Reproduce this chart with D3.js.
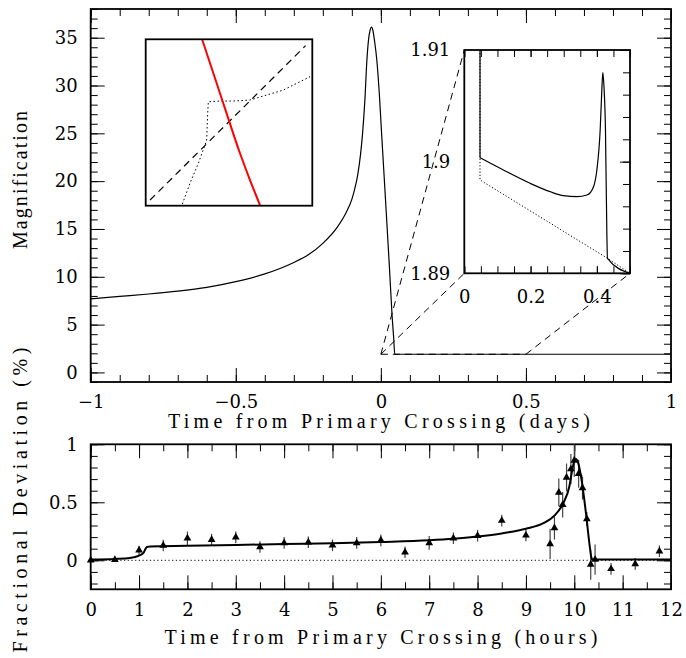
<!DOCTYPE html>
<html>
<head>
<meta charset="utf-8">
<script src="https://cdn.jsdelivr.net/npm/d3@7/dist/d3.min.js"></script>
<style>
    body { margin: 0; background: #fff; }
    text { font-family: "DejaVu Serif", serif; fill: #000; }
</style>
</head>
<body>
<svg width="686" height="658"></svg>
<script>
// upper panel: magnification vs time (days)
let mainT = [-1, -0.9, -0.8, -0.7, -0.6, -0.5, -0.4, -0.3, -0.25, -0.2, -0.15, -0.12, -0.1, -0.09, -0.08, -0.07,
    -0.063, -0.055, -0.048, -0.042, -0.037, -0.032, -0.027, -0.021, -0.014, -0.005, 0.002, 0.015, 0.029, 0.039,
    0.044, 0.048, 0.1, 0.5, 1.0];
let mainA = [7.7, 7.95, 8.2, 8.5, 8.9, 9.5, 10.3, 11.5, 12.3, 13.5, 15.2, 16.7, 18.1, 19.2, 20.6, 22.8,
    25.0, 28.5, 32.7, 34.9, 35.8, 36.1, 35.7, 34.5, 32.7, 29.0, 25.3, 18.6, 11.3, 5.8,
    3.7, 1.9, 1.9, 1.9, 1.9];

// zoomed inset (days, magnification)
let insetT = [0.0474, 0.1179, 0.1985, 0.259, 0.299, 0.3396, 0.370, 0.390, 0.400, 0.410, 0.415, 0.418, 0.422,
    0.426, 0.430, 0.432, 0.5];
let insetA = [1.90035, 1.89925, 1.89806, 1.89731, 1.89695, 1.89686, 1.89701, 1.89776, 1.89925, 1.90283, 1.90642,
    1.90797, 1.90642, 1.90283, 1.89388, 1.89134, 1.89];
let insetDotT = [0.0474, 0.0474, 0.432, 0.5];
let insetDotA = [1.91, 1.89836, 1.89134, 1.89];

// caustic sketch (arbitrary unit square)
let sketchRed = [[0.34, 0.996], [0.426, 0.736], [0.502, 0.505], [0.566, 0.315], [0.626, 0.154], [0.686, 0.004]];
let sketchDash = [[0.026, 0.034], [0.96, 0.962]];
let sketchDot = [[0.22, 0.01], [0.266, 0.135], [0.316, 0.255], [0.356, 0.365], [0.366, 0.395], [0.372, 0.555],
    [0.376, 0.625], [0.446, 0.629], [0.526, 0.629], [0.626, 0.635], [0.726, 0.665], [0.826, 0.695],
    [0.906, 0.735], [0.986, 0.775]];

// lower panel: fractional deviation vs time (hours)
let devH = [0, 0.5, 0.81, 1.0, 1.09, 1.16, 1.23, 2, 3, 4, 5, 6, 7, 7.5, 8, 8.5, 9, 9.36, 9.6, 9.77, 9.9, 9.95,
    9.99, 10.035, 10.08, 10.15, 10.24, 10.32, 10.35, 10.37, 12];
let devD = [0.006, 0.012, 0.02, 0.04, 0.063, 0.115, 0.12, 0.125, 0.132, 0.14, 0.148, 0.158, 0.172, 0.185, 0.205,
    0.232, 0.272, 0.32, 0.39, 0.49, 0.64, 0.76, 0.84, 0.873, 0.84, 0.695, 0.41, 0.12, 0.03, 0.006, 0.006];

let ptH = [0, 0.5, 1.0, 1.5, 2.0, 2.5, 3.0, 3.5, 4.0, 4.5, 5.0, 5.5, 6.0, 6.5, 7.0, 7.5, 8.0, 8.5, 9.0, 9.5,
    9.59, 9.68, 9.76, 9.84, 9.93, 10.0, 10.09, 10.17, 10.26, 10.34, 10.43, 10.76, 11.26, 11.76];
let ptD = [0.0, 0.005, 0.086, 0.127, 0.19, 0.178, 0.198, 0.115, 0.15, 0.155, 0.129, 0.15, 0.172, 0.069, 0.15,
    0.19, 0.212, 0.342, 0.215, 0.141, 0.279, 0.585, 0.479, 0.714, 0.786, 0.86, 0.746, 0.623, 0.356, -0.037,
    0.006, -0.074, -0.031, 0.078];
let ptErr = [0.01, 0.01, 0.04, 0.05, 0.058, 0.05, 0.05, 0.05, 0.05, 0.05, 0.05, 0.05, 0.05, 0.05, 0.06, 0.05,
    0.05, 0.05, 0.05, 0.13, 0.1, 0.12, 0.11, 0.12, 0.13, 0.14, 0.12, 0.1, 0.06, 0.13, 0.13, 0.05, 0.05, 0.05];

// tick values
let mainXMajor = [-1, -0.5, 0, 0.5, 1];
let mainYMajor = [0, 5, 10, 15, 20, 25, 30, 35];
let insetXMajor = [0, 0.2, 0.4];
let insetYMajor = [1.89, 1.9, 1.91];
let devXMajor = [0, 1, 2, 3, 4, 5, 6, 7, 8, 9, 10, 11, 12];
let devYMajor = [0, 0.5, 1];

let svg = d3.select("svg");
let fmt = d3.format("~g");

/**
 * draw a boxed frame with inward ticks on the four sides
 */
function drawFrame(g, x, y, o) {
    let w = x.range()[1] - x.range()[0];
    let h = y.range()[0] - y.range()[1];
    let hide = o.hideTicks || [];

    ["bottom", "top", "left", "right"].forEach(s => {
        let horiz = s === "bottom" || s === "top";
        let scale = horiz ? x : y;
        let maker = {bottom: d3.axisBottom, top: d3.axisTop, left: d3.axisLeft, right: d3.axisRight}[s];
        let pos = {bottom: [0, h], top: [0, 0], left: [0, 0], right: [w, 0]}[s];
        let minor = horiz ? o.xMinor : o.yMinor;
        let major = horiz ? o.xMajor : o.yMajor;
        let majorLen = horiz ? (o.xMajorLen || 14) : (o.yMajorLen || 14);
        let off = hide.indexOf(s) >= 0;

        // minor ticks
        if (!off) {
            g.append("g").attr("transform", `translate(${pos[0]},${pos[1]})`)
                .call(maker(scale).tickValues(minor).tickSizeInner(-7).tickSizeOuter(0).tickFormat(""))
                .call(a => a.select(".domain").remove());
        }
        // major ticks (+ labels on left/bottom)
        let labelled = s === "bottom" || s === "left";
        let ax = g.append("g").attr("transform", `translate(${pos[0]},${pos[1]})`)
            .call(maker(scale).tickValues(major).tickSizeInner(off ? 0 : -majorLen).tickSizeOuter(0)
                .tickPadding(s === "bottom" ? o.xPad : o.yPad)
                .tickFormat(labelled ? fmt : ""));
        ax.select(".domain").remove();
        ax.selectAll("text").style("font-size", "18px").style("font-family", "'DejaVu Serif', serif");
    });
    g.selectAll(".tick line").attr("stroke", "#000").attr("stroke-width", 1);

    g.append("rect")
        .attr("width", w).attr("height", h)
        .attr("fill", "none").attr("stroke", "#000").attr("stroke-width", 1.8);
}

// ---------------- upper panel ----------------
let topG = svg.append("g").attr("transform", "translate(90.7,9)");
let xMain = d3.scaleLinear().domain([-1, 1]).range([0, 580.3]);
let yMain = d3.scaleLinear().domain([-1, 38]).range([373, 0]);

drawFrame(topG, xMain, yMain, {
    xMinor: d3.range(-1, 1.001, 0.1), xMajor: mainXMajor,
    yMinor: d3.range(-1, 38.001, 1), yMajor: mainYMajor,
    xPad: 13, yPad: 13
});

let mainLine = d3.line()
    .x((d, i) => xMain(mainT[i]))
    .y((d, i) => yMain(mainA[i]))
    .curve(d3.curveMonotoneX);
topG.append("path")
    .attr("d", mainLine(mainT))
    .attr("fill", "none").attr("stroke", "#000").attr("stroke-width", 1.2);

// zoom box and connecting dashed lines
let insX = d3.scaleLinear().domain([0, 0.5]).range([464.3 - 90.7, 630 - 90.7]);
let insY = d3.scaleLinear().domain([1.89, 1.91]).range([273.3 - 9, 50 - 9]);
let boxL = xMain(0), boxR = xMain(0.5), boxY = yMain(1.9);
let connectors = [
    [boxL, boxY, insX.range()[0], insY.range()[1]],
    [boxL, boxY, insX.range()[0], insY.range()[0]],
    [boxR, boxY, insX.range()[1], insY.range()[0]]
];
topG.selectAll("line.conn")
    .data(connectors)
    .enter()
    .append("line")
    .attr("class", "conn")
    .attr("x1", d => d[0]).attr("y1", d => d[1])
    .attr("x2", d => d[2]).attr("y2", d => d[3])
    .attr("stroke", "#000").attr("stroke-width", 1).attr("stroke-dasharray", "7,5");
topG.append("line")
    .attr("x1", boxL).attr("x2", boxR).attr("y1", boxY).attr("y2", boxY)
    .attr("stroke", "#000").attr("stroke-width", 1).attr("stroke-dasharray", "7,5");

// zoomed inset on the right
let ins = topG.append("g").attr("transform", `translate(${insX.range()[0]},${insY.range()[1]})`);
let ix = d3.scaleLinear().domain(insX.domain()).range([0, insX.range()[1] - insX.range()[0]]);
let iy = d3.scaleLinear().domain(insY.domain()).range([insY.range()[0] - insY.range()[1], 0]);
ins.append("rect").attr("width", ix.range()[1]).attr("height", iy.range()[0]).attr("fill", "#fff");

ins.append("path")
    .attr("d", d3.line().x((d, i) => ix(insetDotT[i])).y((d, i) => iy(insetDotA[i]))(insetDotT))
    .attr("fill", "none").attr("stroke", "#000").attr("stroke-width", 1).attr("stroke-dasharray", "1.2,2");
ins.append("line")
    .attr("x1", ix(insetT[0])).attr("x2", ix(insetT[0]))
    .attr("y1", iy(1.91)).attr("y2", iy(insetA[0]))
    .attr("stroke", "#000").attr("stroke-width", 1.2);
ins.append("path")
    .attr("d", d3.line().x((d, i) => ix(insetT[i])).y((d, i) => iy(insetA[i])).curve(d3.curveMonotoneX)(insetT))
    .attr("fill", "none").attr("stroke", "#000").attr("stroke-width", 1.2);

drawFrame(ins, ix, iy, {
    xMinor: d3.range(0, 0.5001, 0.05), xMajor: insetXMajor,
    yMinor: d3.range(1.89, 1.91001, 0.002), yMajor: insetYMajor,
    xPad: 17, yPad: 14, xMajorLen: 7, yMajorLen: 10, hideTicks: ["left"]
});

// caustic sketch inset on the left
let sk = topG.append("g").attr("transform", `translate(${145.7 - 90.7},${39.3 - 9})`);
let sx = d3.scaleLinear().domain([0, 1]).range([0, 166.6]);
let sy = d3.scaleLinear().domain([0, 1]).range([166.4, 0]);
sk.append("rect").attr("width", 166.6).attr("height", 166.4).attr("fill", "#fff");
let skLine = d3.line().x(d => sx(d[0])).y(d => sy(d[1]));
sk.append("path").attr("d", skLine.curve(d3.curveLinear)(sketchDash))
    .attr("fill", "none").attr("stroke", "#000").attr("stroke-width", 1.2).attr("stroke-dasharray", "7,5");
sk.append("path").attr("d", skLine.curve(d3.curveLinear)(sketchDot))
    .attr("fill", "none").attr("stroke", "#000").attr("stroke-width", 1).attr("stroke-dasharray", "1.5,2.5");
sk.append("path").attr("d", skLine.curve(d3.curveMonotoneY)(sketchRed))
    .attr("fill", "none").attr("stroke", "#ff0000").attr("stroke-width", 2);
sk.append("rect").attr("width", 166.6).attr("height", 166.4)
    .attr("fill", "none").attr("stroke", "#000").attr("stroke-width", 1.8);

// ---------------- lower panel ----------------
let botG = svg.append("g").attr("transform", "translate(90.7,444.3)");
let xDev = d3.scaleLinear().domain([0, 12]).range([0, 580.3]);
let yDev = d3.scaleLinear().domain([-0.25, 1]).range([145, 0]);

drawFrame(botG, xDev, yDev, {
    xMinor: d3.range(0, 12.001, 0.5), xMajor: devXMajor,
    yMinor: d3.range(-0.2, 1.001, 0.1), yMajor: devYMajor,
    xPad: 14, yPad: 13
});

// zero reference
botG.append("line")
    .attr("x1", 0).attr("x2", xDev(12)).attr("y1", yDev(0)).attr("y2", yDev(0))
    .attr("stroke", "#000").attr("stroke-width", 1).attr("stroke-dasharray", "1.2,2.5");

// error bars and triangles
let pts = botG.append("g");
pts.selectAll("line")
    .data(ptH)
    .enter()
    .append("line")
    .attr("x1", d => xDev(d)).attr("x2", d => xDev(d))
    .attr("y1", (d, i) => yDev(Math.min(1, ptD[i] + ptErr[i])))
    .attr("y2", (d, i) => yDev(ptD[i] - ptErr[i]))
    .attr("stroke", "#444").attr("stroke-width", 1.2);
pts.selectAll("path")
    .data(ptH)
    .enter()
    .append("path")
    .attr("d", d3.symbol().type(d3.symbolTriangle).size(26))
    .attr("transform", (d, i) => `translate(${xDev(d)},${yDev(ptD[i])})`)
    .attr("fill", "#000");

// model curve
botG.append("path")
    .attr("d", d3.line().x((d, i) => xDev(devH[i])).y((d, i) => yDev(devD[i])).curve(d3.curveMonotoneX)(devH))
    .attr("fill", "none").attr("stroke", "#000").attr("stroke-width", 2);

// ---------------- axis titles ----------------
function title(x, y, txt, len, rot) {
    svg.append("text")
        .attr("transform", `translate(${x},${y})` + (rot ? " rotate(-90)" : ""))
        .attr("text-anchor", "middle")
        .attr("textLength", len)
        .attr("lengthAdjust", "spacing")
        .style("font-family", "'Liberation Serif', serif")
        .style("font-size", "20px")
        .text(txt);
}
title(379, 428, "Time from Primary Crossing (days)", 422);
title(381, 644, "Time from Primary Crossing (hours)", 433);
title(27, 180, "Magnification", 138, true);
title(27, 500, "Fractional Deviation (%)", 305, true);
</script>
</body>
</html>
